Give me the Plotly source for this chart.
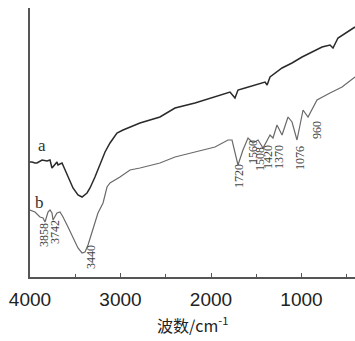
import plotly.graph_objects as go

# Curve a (upper spectrum)
wn_a = [4000, 3978, 3945, 3923, 3867, 3812, 3779, 3757, 3702, 3691, 3646, 3613, 3580,
        3525, 3470, 3425, 3370, 3337, 3282, 3226, 3171, 3116, 3039, 2972, 2785, 2564,
        2398, 2177, 1956, 1790, 1735, 1702, 1624, 1403, 1380, 1348, 1215, 1105, 994,
        851, 773, 685, 652, 597, 486, 409]
t_a = [115, 115, 114, 114, 117, 116, 117, 109, 115, 112, 114, 107, 100,
       89, 82, 80, 84, 89, 100, 112, 125, 134, 144, 147, 154, 160,
       169, 174, 180, 185, 179, 187, 189, 195, 192, 200, 209, 214, 220,
       227, 230, 232, 229, 239, 245, 250]

# Curve b (lower spectrum)
wn_b = [4000, 3945, 3890, 3856, 3834, 3801, 3779, 3757, 3746, 3702, 3668, 3635, 3580,
        3525, 3470, 3425, 3392, 3359, 3315, 3282, 3249, 3193, 3149, 3116, 3006, 2895,
        2785, 2564, 2398, 2177, 1956, 1812, 1768, 1702, 1647, 1591, 1536, 1480, 1425,
        1348, 1315, 1271, 1215, 1149, 1105, 1050, 983, 928, 829, 685, 552, 409]
t_b = [67, 65, 60, 59, 55, 65, 67, 64, 57, 64, 65, 60, 50,
       40, 29, 24, 25, 32, 44, 54, 64, 74, 90, 94, 100, 107,
       109, 114, 120, 125, 130, 137, 137, 112, 127, 139, 134, 137, 129,
       142, 139, 152, 142, 160, 155, 137, 167, 160, 177, 184, 190, 200]

x_ticks = [4000, 3000, 2000, 1000]
curve_labels = ["a", "b"]
curve_label_x = [3867, 3890]
curve_label_y = [132, 75]

peak_labels = ["3858", "3742", "3440", "1720", "1560", "1508", "1420", "1370", "1076", "960"]
peak_label_x = [3845, 3724, 3326, 1690, 1536, 1458, 1370, 1248, 1016, 829]
peak_label_y = [42, 45, 20, 101, 125, 118, 120, 120, 119, 147]

fig = go.Figure()
fig.add_trace(go.Scatter(x=wn_a, y=t_a, mode="lines",
                         line=dict(color="#2a2a2a", width=1.5), showlegend=False))
fig.add_trace(go.Scatter(x=wn_b, y=t_b, mode="lines",
                         line=dict(color="#6a6a6a", width=1.2), showlegend=False))

for lab, x, y in zip(curve_labels, curve_label_x, curve_label_y):
    fig.add_annotation(x=x, y=y, text=lab, showarrow=False,
                       font=dict(family="Liberation Serif", size=17, color="#333"))

for lab, x, y in zip(peak_labels, peak_label_x, peak_label_y):
    fig.add_annotation(x=x, y=y, text=lab, showarrow=False, textangle=-90,
                       font=dict(family="Liberation Serif", size=12, color="#444"))

fig.add_annotation(xref="paper", yref="paper", x=0.5, y=-0.178, yanchor="middle",
                   text="波数/cm<sup>-1</sup>", showarrow=False,
                   font=dict(family="Noto Sans CJK SC", size=16, color="#222"))

fig.update_layout(
    width=355, height=341,
    margin=dict(l=30, r=0, t=8, b=64),
    plot_bgcolor="white", paper_bgcolor="white",
    xaxis=dict(range=[4000, 409], tickvals=x_ticks, ticks="inside", ticklen=4,
               tickcolor="#555", showline=True, linecolor="#555", linewidth=1.5,
               showgrid=False, zeroline=False, ticklabelstandoff=4,
               tickfont=dict(family="Liberation Sans", size=19, color="#222"),
               minor=dict(tickvals=[3500, 2500, 1500, 500], ticks="inside",
                          ticklen=3, tickcolor="#555")),
    yaxis=dict(range=[0, 269], showticklabels=False, ticks="", showline=True,
               linecolor="#555", linewidth=1.5, showgrid=False, zeroline=False),
)

fig.write_html("out.html", config={"displayModeBar": False},
               post_script="document.body.style.margin='0';document.body.style.overflow='hidden';")
